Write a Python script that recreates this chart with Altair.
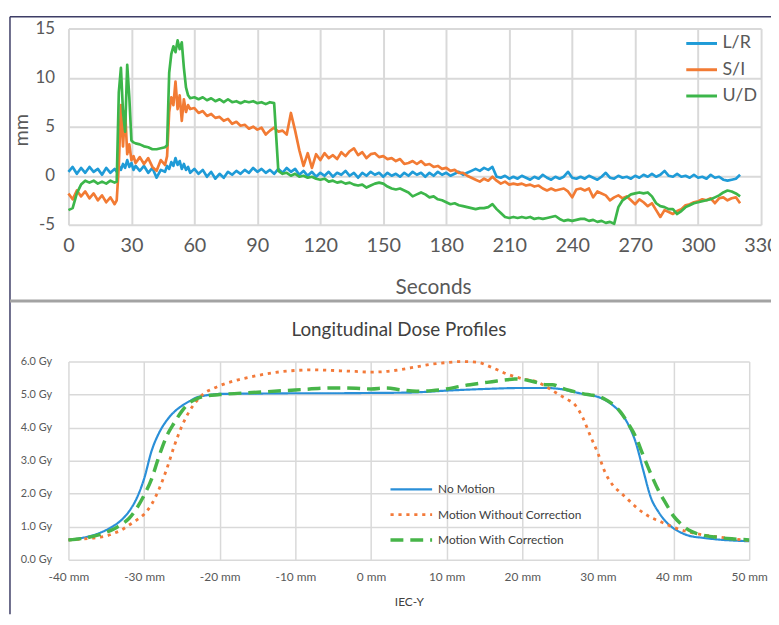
import altair as alt
import pandas as pd

FONT = "Lato"

# ---------------- top panel: motion traces ----------------
SERIES_TOP = ["L/R", "S/I", "U/D"]
COLORS_TOP = ["#1f9bd7", "#f27b34", "#3cb64a"]

T_A = [0, 2, 4, 6, 8, 10, 12, 14, 16, 18, 20, 22]
T_B = [23, 24, 25, 26, 27, 28, 29, 30, 31, 32]
T_C = [34, 36, 38, 40, 42, 44, 46]
T_D = [47, 48, 49, 50, 51, 52, 53, 54, 55, 56, 57, 58]
T_E = [60, 62, 64, 66, 68, 70, 72, 74, 76, 78,
       80, 82, 84, 86, 88, 90, 92, 94, 96, 98,
       100, 102, 104, 106, 108, 110, 112, 114, 116, 118,
       120, 122, 124, 126, 128, 130, 132, 134, 136, 138,
       140, 142, 144, 146, 148, 150, 152, 154, 156, 158,
       160, 162, 164, 166, 168, 170, 172, 174, 176, 178,
       180, 182, 184, 186, 188, 190, 192, 194, 196, 198,
       200, 202, 204, 206, 208, 210, 212, 214, 216, 218,
       220, 222, 224, 226, 228, 230, 232, 234, 236, 238,
       240, 242, 244, 246, 248, 250, 252, 254, 256, 258,
       260, 262, 264, 266, 268, 270, 272, 274, 276, 278,
       280, 282, 284, 286, 288, 290, 292, 294, 296, 298,
       300, 302, 304, 306, 308, 310, 312, 314, 316, 318,
       320]

LR_A = [0.4, 0.9, 0.2, 0.8, 0.3, 0.9, 0.4, 0.7, 0.1, 0.8, 0.3, 0.7]
LR_B = [0.4, 1.0, 0.6, 1.2, 0.8, 1.6, 0.9, 1.3, 0.6, 1.0]
LR_C = [0.5, 1.0, 0.3, 0.8, -0.2, 0.6, 0.4]
LR_D = [1.0, 0.7, 1.4, 1.0, 1.8, 1.1, 1.5, 0.7, 1.2, 0.6, 0.9, 0.3]
LR_E = [0.7, 0.2, 0.6, -0.1, 0.4, -0.3, 0.2, -0.2, 0.4, 0.1,
        0.5, 0.2, 0.6, 0.3, 0.8, 0.4, 0.7, 0.3, 0.6, 0.2,
        0.7, 0.3, 0.8, 0.4, 0.7, 0.1, 0.5, 0.0, 0.4, -0.1,
        0.3, 0.0, 0.4, -0.1, 0.3, 0.1, 0.5, 0.0, 0.3, -0.2,
        0.3, 0.0, 0.4, 0.1, 0.3, -0.1, 0.3, 0.0, 0.2, -0.1,
        0.3, 0.0, 0.4, 0.1, 0.3, -0.1, 0.3, 0.0, 0.4, 0.1,
        0.3, 0.0, 0.2, 0.4, 0.1, 0.3, 0.5, 0.7, 0.5, 0.8,
        0.6, 0.9, -0.1, -0.2, 0.0, -0.3, -0.1, -0.3, 0.0, -0.2,
        -0.4, -0.1, -0.3, 0.1, -0.2, -0.4, -0.1, -0.3, -0.1, 0.4,
        -0.2, -0.3, -0.1, -0.3, 0.0, -0.2, -0.4, -0.1, 0.3, -0.2,
        -0.3, 0.0, -0.2, -0.1, -0.3, 0.0, -0.2, 0.1, -0.1, 0.2,
        -0.1, 0.1, 0.5, 0.0, -0.1, 0.2, -0.1, 0.0, -0.2, 0.1,
        -0.2, -0.1, -0.3, 0.1, -0.2, -0.1, -0.4, -0.5, -0.4, -0.3,
        0.1]

SI_A = [-1.8, -2.4, -1.5, -2.1, -1.6, -2.3, -1.8, -2.5, -2.0, -2.7, -2.2, -2.9]
SI_B = [-2.5, 1.0, 7.2, 3.0, 6.6, 2.2, 3.2, 1.6, 2.0, 1.3]
SI_C = [1.9, 1.2, 1.8, 0.9, 0.5, 1.6, 1.1]
SI_D = [2.0, 6.5, 8.0, 7.2, 9.6, 6.8, 8.2, 5.6, 7.8, 6.5, 7.2, 6.8]
SI_E = [6.9, 6.4, 6.6, 6.1, 6.3, 5.9, 6.0, 5.6, 5.8, 5.3,
        5.5, 5.1, 5.2, 4.8, 5.0, 4.7, 4.9, 4.2, 4.6, 4.9,
        4.5, 4.6, 4.2, 6.4, 4.6, 2.6, 1.0, 2.3, 0.8, 2.2,
        1.6, 2.3, 1.8, 2.1, 1.7, 2.4, 2.0, 2.5, 2.8, 2.1,
        2.4, 1.8, 2.2, 2.3, 1.9, 2.0, 1.7, 1.8, 1.5, 1.7,
        1.2, 1.3, 1.5, 1.2, 1.5, 1.1, 1.2, 0.9, 1.0, 0.7,
        0.8, 0.5, 0.6, 0.3, 0.3, 0.0, -0.2, -0.4, -0.6, -0.3,
        -0.5, -0.1, -0.5, -0.8, -0.6, -0.9, -0.8, -0.9, -0.8, -1.0,
        -0.9, -1.1, -1.0, -1.3, -1.5, -1.3, -1.5, -1.4, -1.3, -1.6,
        -2.2, -1.4, -1.3, -1.5, -1.3, -2.2, -1.6, -1.8, -2.0, -2.5,
        -2.2, -2.0, -2.3, -2.1, -2.5, -2.9, -2.4, -2.7, -3.1, -2.8,
        -3.5, -4.2, -3.5, -3.7, -3.9, -3.6, -3.4, -3.0, -2.9, -2.7,
        -2.6, -2.4, -2.5, -2.3, -2.8, -2.3, -2.2, -2.5, -2.3, -2.2,
        -2.8]

UD_A = [-3.5, -3.3, -1.8, -0.9, -0.5, -0.7, -0.5, -0.8, -0.6, -0.8, -0.5, -0.7]
UD_B = [-0.6, 8.5, 11.0, 6.5, 4.5, 11.3, 8.0, 3.6, 3.4, 3.3]
UD_C = [3.2, 3.0, 2.9, 2.7, 2.7, 2.8, 2.9]
UD_D = [3.1, 10.5, 12.4, 13.2, 12.6, 13.8, 12.9, 13.6, 11.0, 9.0, 8.2, 7.9]
UD_E = [8.0, 7.8, 8.0, 7.7, 7.9, 7.6, 7.8, 7.5, 7.8, 7.5,
        7.6, 7.4, 7.6, 7.5, 7.6, 7.4, 7.5, 7.3, 7.5, 7.4,
        0.5, 0.2, 0.3, 0.0, 0.2, -0.1, 0.0, -0.2, -0.1, -0.3,
        -0.4, -0.3, -0.6, -0.5, -0.7, -0.6, -0.8, -0.7, -0.9, -1.0,
        -0.9, -1.2, -1.0, -0.8, -0.7, -0.8, -1.1, -1.3, -1.4, -1.3,
        -1.5, -1.7, -2.1, -1.9, -1.7, -1.9, -2.2, -2.1, -2.4, -2.5,
        -2.7, -2.9, -2.8, -3.0, -3.1, -3.2, -3.3, -3.4, -3.3, -3.3,
        -3.2, -2.9, -3.4, -3.8, -4.2, -4.3, -4.2, -4.3, -4.2, -4.3,
        -4.2, -4.4, -4.3, -4.4, -4.3, -4.2, -4.1, -4.4, -4.6, -4.5,
        -4.6, -4.5, -4.4, -4.4, -4.6, -4.5, -4.7, -4.6, -4.8, -4.7,
        -4.9, -3.2, -2.5, -2.2, -1.9, -1.8, -1.7, -1.8, -1.7, -2.1,
        -2.8, -3.1, -3.2, -3.4, -3.4, -3.9, -3.6, -3.2, -3.0, -2.8,
        -2.7, -2.6, -2.5, -2.4, -2.2, -2.0, -1.7, -1.5, -1.6, -1.8,
        -2.1]

T = T_A + T_B + T_C + T_D + T_E
LR = LR_A + LR_B + LR_C + LR_D + LR_E
SI = SI_A + SI_B + SI_C + SI_D + SI_E
UD = UD_A + UD_B + UD_C + UD_D + UD_E

n = len(T)
top_df = pd.DataFrame({
    "t": T * 3,
    "v": LR + SI + UD,
    "axis": [SERIES_TOP[0]] * n + [SERIES_TOP[1]] * n + [SERIES_TOP[2]] * n,
})

# ---------------- bottom panel: dose profiles ----------------
SERIES_BOT = ["No Motion", "Motion Without Correction", "Motion With Correction"]
COLORS_BOT = ["#2a8fd8", "#f37a3a", "#47b549"]

X_NM = [-40, -38, -36, -35, -34, -33, -32, -31, -30, -29, -28, -27, -26, -25, -24, -23, -22, -21,
        -20, -15, -10, -5, 0, 5, 10, 15, 20, 23, 25, 27, 28, 29, 30, 31, 32, 33, 34, 35, 36, 37,
        38, 39, 40, 41, 42, 44, 46, 48, 50]
D_NM = [0.60, 0.67, 0.80, 0.90, 1.03, 1.20, 1.46, 1.85, 2.45, 3.30, 3.85, 4.22, 4.48, 4.66, 4.80,
        4.92, 4.97, 5.00, 5.02, 5.03, 5.04, 5.04, 5.05, 5.06, 5.12, 5.17, 5.20, 5.20, 5.17, 5.07,
        5.02, 4.98, 4.93, 4.83, 4.67, 4.45, 4.10, 3.55, 2.70, 1.88, 1.45, 1.15, 0.95, 0.82, 0.73,
        0.66, 0.61, 0.58, 0.56]

X_WO = [-40, -38, -36, -35, -34, -33, -32, -31, -30, -29, -28, -27, -26, -25, -24, -23, -22, -21,
        -20, -18, -16, -14, -12, -10, -8, -6, -4, -2, 0, 2, 4, 6, 8, 10, 12, 14, 16, 18, 20, 22,
        24, 25, 26, 27, 28, 29, 30, 31, 32, 33, 34, 35, 36, 37, 38, 39, 40, 42, 44, 46, 48, 50]
D_WO = [0.60, 0.63, 0.68, 0.72, 0.80, 0.90, 1.05, 1.20, 1.38, 1.68, 2.15, 2.75, 3.45, 4.05, 4.50,
        4.82, 5.05, 5.17, 5.27, 5.42, 5.53, 5.62, 5.69, 5.73, 5.75, 5.74, 5.72, 5.70, 5.68, 5.70,
        5.76, 5.84, 5.92, 5.97, 6.00, 5.98, 5.82, 5.62, 5.48, 5.38, 5.12, 4.98, 4.85, 4.68, 4.30,
        3.75, 3.22, 2.62, 2.25, 2.03, 1.82, 1.60, 1.42, 1.28, 1.18, 1.08, 0.98, 0.84, 0.75, 0.69,
        0.63, 0.58]

X_WC = [-40, -38, -36, -35, -34, -33, -32, -31, -30, -29, -28, -27, -26, -25, -24, -23, -22,
        -20, -15, -10, -5, -2, 0, 2, 4, 6, 8, 10, 12, 14, 16, 18, 19, 20, 21, 22, 23, 24, 25, 26,
        27, 28, 29, 30, 31, 32, 33, 34, 35, 36, 37, 38, 39, 40, 41, 42, 43, 44, 46, 48, 50]
D_WC = [0.60, 0.65, 0.75, 0.83, 0.93, 1.07, 1.25, 1.55, 1.95, 2.45, 3.15, 3.75, 4.15, 4.50, 4.75,
        4.88, 4.95, 5.00, 5.07, 5.14, 5.20, 5.19, 5.17, 5.20, 5.14, 5.10, 5.12, 5.17, 5.26, 5.33,
        5.39, 5.45, 5.47, 5.46, 5.42, 5.36, 5.30, 5.30, 5.22, 5.14, 5.08, 5.03, 4.99, 4.95, 4.85,
        4.70, 4.47, 4.12, 3.72, 3.15, 2.60, 2.10, 1.70, 1.32, 1.08, 0.90, 0.80, 0.74, 0.67, 0.63,
        0.60]

bot_df = pd.DataFrame({
    "x": X_NM + X_WO + X_WC,
    "d": D_NM + D_WO + D_WC,
    "series": [SERIES_BOT[0]] * len(X_NM) + [SERIES_BOT[1]] * len(X_WO) + [SERIES_BOT[2]] * len(X_WC),
})

# ---------------- charts ----------------
GRAY_TXT = "#595959"

top_legend = alt.Legend(
    title=None, orient="none", legendX=622, legendY=-2, symbolType="stroke",
    symbolSize=961, symbolStrokeWidth=3, labelFontSize=18, labelColor=GRAY_TXT,
    labelFont=FONT, labelOffset=4, rowPadding=0.5, padding=0,
)

top_lines = alt.Chart(top_df).mark_line(strokeWidth=2.7, strokeJoin="round").encode(
    x=alt.X("t:Q", scale=alt.Scale(domain=[0, 330], nice=False, zero=False),
            axis=alt.Axis(values=list(range(0, 331, 30)), title="Seconds", labelFlush=False,
                          labelFontSize=20, labelColor=GRAY_TXT, labelPadding=11,
                          domain=False, ticks=False, gridColor="#d9d9d9", gridWidth=2,
                          titleFontSize=21, titleFontWeight="normal", titleColor=GRAY_TXT,
                          titleX=368, titleY=69, titleAlign="center", titleBaseline="alphabetic")),
    y=alt.Y("v:Q", scale=alt.Scale(domain=[-5, 15], nice=False),
            axis=alt.Axis(values=[-5, 0, 5, 10, 15], title="mm", labelExpr="'' + datum.value",
                          labelFontSize=17, labelColor=GRAY_TXT, labelPadding=14,
                          domain=False, ticks=False, gridColor="#d9d9d9", gridWidth=2,
                          titleFontSize=20, titleFontWeight="normal", titleColor=GRAY_TXT,
                          titleAngle=270, titleX=-47, titleY=102, titleAlign="center",
                          titleBaseline="middle")),
    color=alt.Color("axis:N", scale=alt.Scale(domain=SERIES_TOP, range=COLORS_TOP), legend=top_legend),
)

deco = pd.DataFrame({"k": [0]})
frame_top = alt.Chart(deco).mark_rule(color="#3d3d66", strokeWidth=1.5).encode(
    x=alt.value(-59), x2=alt.value(712), y=alt.value(-12))
frame_left = alt.Chart(deco).mark_rule(color="#3d3d66", strokeWidth=1.5).encode(
    x=alt.value(-59), y=alt.value(-12), y2=alt.value(591))
separator = alt.Chart(deco).mark_rule(color="#a3a3a3", strokeWidth=3).encode(
    x=alt.value(-59), x2=alt.value(712), y=alt.value(275))

top = alt.layer(top_lines, frame_top, frame_left, separator).properties(width=699, height=198)

bot_legend = alt.Legend(
    title=None, orient="none", legendX=323, legendY=123, symbolType="stroke",
    symbolSize=1764, labelFontSize=12, labelColor="#404040", labelFont=FONT,
    labelOffset=4, rowPadding=13.5, clipHeight=12, padding=0, labelLimit=300,
)

bottom = alt.Chart(bot_df).mark_line(strokeCap="butt", interpolate="monotone").encode(
    x=alt.X("x:Q", scale=alt.Scale(domain=[-40, 50], nice=False, zero=False),
            axis=alt.Axis(values=list(range(-40, 51, 10)), title="IEC-Y", labelFlush=False,
                          labelExpr="datum.value + ' mm'", labelFontSize=12, labelColor=GRAY_TXT,
                          labelPadding=12, domain=False, ticks=False, gridColor="#d9d9d9",
                          gridWidth=1.5, titleFontSize=12, titleFontWeight="normal",
                          titleColor="#404040", titleY=46, titleBaseline="alphabetic")),
    y=alt.Y("d:Q", scale=alt.Scale(domain=[0, 6], nice=False),
            axis=alt.Axis(values=[0, 1, 2, 3, 4, 5, 6], title=None,
                          labelExpr="format(datum.value, '.1f') + ' Gy'", labelFontSize=11,
                          labelColor=GRAY_TXT, labelPadding=17, domain=False, ticks=False,
                          gridColor="#d9d9d9", gridWidth=1.5)),
    color=alt.Color("series:N", scale=alt.Scale(domain=SERIES_BOT, range=COLORS_BOT), legend=bot_legend),
    strokeDash=alt.StrokeDash("series:N", scale=alt.Scale(domain=SERIES_BOT, range=[[1, 0], [3.2, 4.8], [13, 7]]),
                              legend=bot_legend),
    strokeWidth=alt.StrokeWidth("series:N", scale=alt.Scale(domain=SERIES_BOT, range=[2.2, 3.5, 3.0]),
                                legend=bot_legend),
).properties(
    width=687, height=200,
    title=alt.TitleParams("Longitudinal Dose Profiles", fontSize=19, font=FONT, fontWeight="normal",
                          color="#404040", offset=16, dx=-10, anchor="middle"),
)

chart = alt.vconcat(top, bottom, spacing=138, bounds="flush").resolve_scale(
    color="independent", strokeDash="independent", strokeWidth="independent"
).resolve_legend(
    color="independent", strokeDash="independent", strokeWidth="independent"
).properties(
    padding={"left": 0, "top": 5, "right": -8, "bottom": 0}
).configure(font=FONT).configure_view(strokeWidth=0)

chart.save("out.html", embed_options={"renderer": "svg", "actions": False})
